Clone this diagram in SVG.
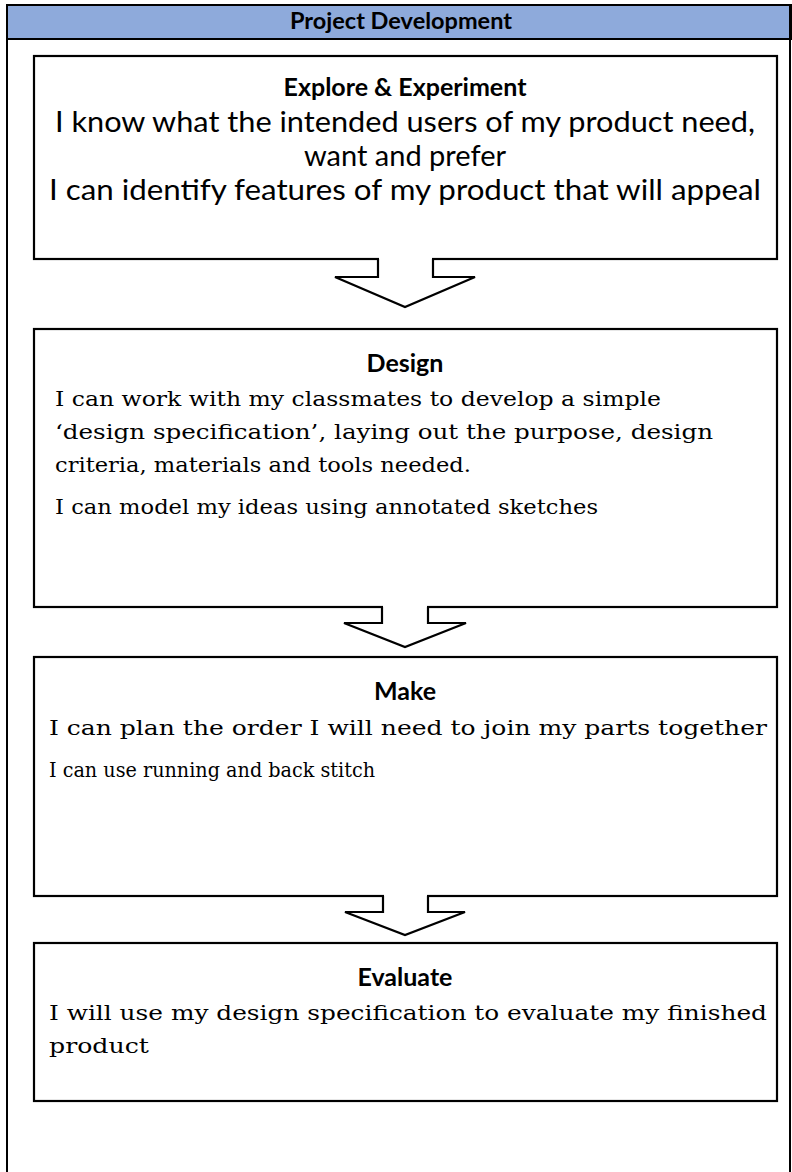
<svg xmlns="http://www.w3.org/2000/svg" width="792" height="1172" viewBox="0 0 792 1172">
<style>
.box{fill:#fff;stroke:#000;stroke-width:2.2}
.frame{fill:none;stroke:#000;stroke-width:2}
.arrow-fill{fill:#fff;stroke:none}
.arrow{fill:none;stroke:#000;stroke-width:2.2;stroke-linejoin:miter}
.hdr{font-family:Lato,"Liberation Sans",sans-serif;font-weight:bold;font-size:22px;fill:#000}
.title{font-family:Lato,"Liberation Sans",sans-serif;font-weight:bold;font-size:25px;fill:#000}
.cal{font-family:Lato,"Liberation Sans",sans-serif;font-size:29px;fill:#000}
.body{font-family:"DejaVu Serif","Liberation Serif",serif;font-size:20px;fill:#000}
</style>
<rect width="792" height="1172" fill="#fff"/>
<g id="frame">
<rect x="7" y="5" width="784" height="34" fill="#8EAADB" stroke="#000" stroke-width="2"/>
<line class="frame" x1="7" y1="5" x2="7" y2="1172"/>
<line class="frame" x1="790" y1="5" x2="790" y2="1172"/>
<text class="hdr" x="401" y="29" text-anchor="middle" textLength="222" lengthAdjust="spacingAndGlyphs">Project Development</text>
</g>
<g id="explore">
<rect class="box" x="34" y="56" width="743" height="203"/>
<text class="title" x="405" y="96" text-anchor="middle">Explore &amp; Experiment</text>
<text class="cal" x="405" y="132" text-anchor="middle" textLength="700" lengthAdjust="spacingAndGlyphs">I know what the intended users of my product need,</text>
<text class="cal" x="405" y="166" text-anchor="middle">want and prefer</text>
<text class="cal" x="405" y="200" text-anchor="middle" textLength="712" lengthAdjust="spacingAndGlyphs">I can identify features of my product that will appeal</text>
</g>
<g id="design">
<rect class="box" x="34" y="329" width="743" height="278"/>
<text class="title" x="405" y="372" text-anchor="middle">Design</text>
<text class="body" x="55" y="406" textLength="606" lengthAdjust="spacingAndGlyphs">I can work with my classmates to develop a simple</text>
<text class="body" x="55" y="439" textLength="658" lengthAdjust="spacingAndGlyphs">‘design specification’, laying out the purpose, design</text>
<text class="body" x="55" y="472" textLength="416" lengthAdjust="spacingAndGlyphs">criteria, materials and tools needed.</text>
<text class="body" x="55" y="514" textLength="543" lengthAdjust="spacingAndGlyphs">I can model my ideas using annotated sketches</text>
</g>
<g id="make">
<rect class="box" x="34" y="657" width="743" height="239"/>
<text class="title" x="405" y="700" text-anchor="middle">Make</text>
<text class="body" x="49" y="735" textLength="718" lengthAdjust="spacingAndGlyphs">I can plan the order I will need to join my parts together</text>
<text class="body" x="49" y="777" textLength="326" lengthAdjust="spacingAndGlyphs">I can use running and back stitch</text>
</g>
<g id="evaluate">
<rect class="box" x="34" y="943" width="743" height="158"/>
<text class="title" x="405" y="986" text-anchor="middle">Evaluate</text>
<text class="body" x="49" y="1020" textLength="718" lengthAdjust="spacingAndGlyphs">I will use my design specification to evaluate my finished</text>
<text class="body" x="49" y="1053" textLength="100" lengthAdjust="spacingAndGlyphs">product</text>
</g>
<g id="connectors">
<polygon class="arrow-fill" points="379,257 379,277 335,277 405,307 475,277 432,277 432,257"/>
<polyline class="arrow" points="378,259 378,277 335,277 405,307 475,277 433,277 433,259"/>
<polygon class="arrow-fill" points="383,605 383,623 344,623 405,647 466,623 427,623 427,605"/>
<polyline class="arrow" points="382,607 382,623 344,623 405,647 466,623 428,623 428,607"/>
<polygon class="arrow-fill" points="384,894 384,912 345,912 405,935 465,912 427,912 427,894"/>
<polyline class="arrow" points="383,896 383,912 345,912 405,935 465,912 428,912 428,896"/>
</g>
</svg>
